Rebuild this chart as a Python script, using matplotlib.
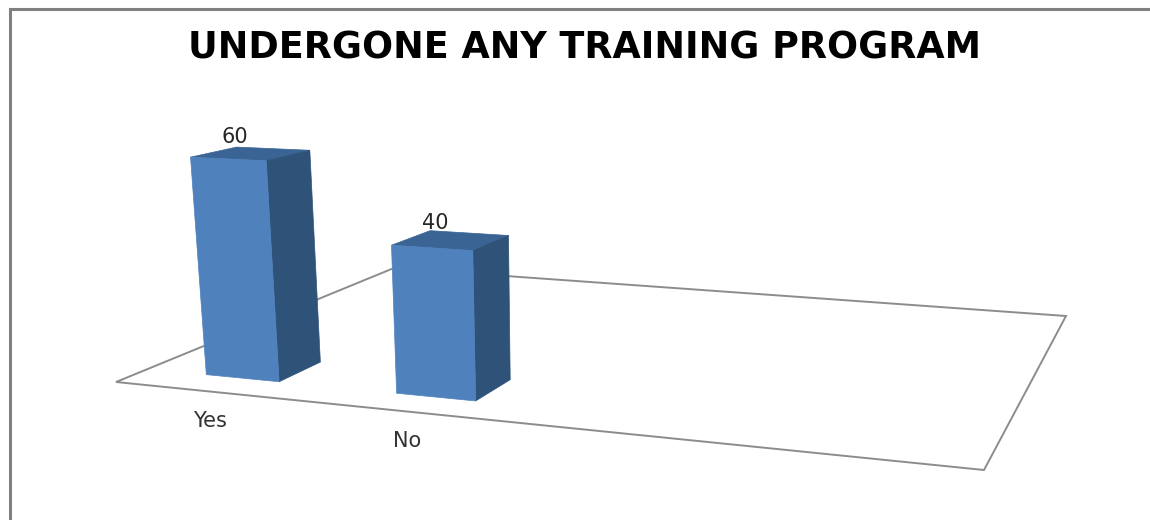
import matplotlib
matplotlib.use("Agg")  # save to file without needing a display
import matplotlib.pyplot as plt
import numpy as np
from matplotlib.patches import Polygon

title = "UNDERGONE ANY TRAINING PROGRAM"
categories = ["Yes", "No"]
values = [60, 40]

# --- fake 3D scene, all in image pixels ---
floor = [(116, 382), (984, 470), (1066, 316), (394, 268)]  # front-left, front-right, back-right, back-left
g, h = -0.1626, 0.3115  # perspective terms for that floor
a, b, c = 708, 400.7, 116
d, e, f = 11.6, -30.5, 382
vanish = np.array([570, 5380])  # verticals meet far below the picture
per_unit = 0.0007  # height per unit of value
base_lift = 0.0022  # value axis does not start right on the floor
back_scale = 0.955  # back corners come out a bit shorter
left_scale = 0.983  # so do the left ones, top edges run flatter than the floor

slots = 4  # chart keeps empty room for two more categories
bar_w = 0.098
bar_v = (0.09, 0.227)


def on_floor(u, v):
    w = g * u + h * v + 1
    return np.array([(a * u + b * v + c) / w, (d * u + e * v + f) / w])


def lift(p, value, scale=1.0):
    return p + (p - vanish) * (value * per_unit + base_lift) * scale


fig = plt.figure(figsize=(11.5, 5.2), dpi=100)
ax = fig.add_axes([0, 0, 1, 1])
ax.set_xlim(0, 1150)
ax.set_ylim(520, 0)
ax.axis("off")

# outer frame, only left and top show
ax.plot([9.5, 9.5, 1150], [520, 9.2, 9.2], color="#808080", lw=2.2, solid_joinstyle="miter")

ax.text(585, 48, title, ha="center", va="center", fontsize=26.3, fontweight="bold",
        family="DejaVu Sans", color="black")

ax.add_patch(Polygon(floor, closed=True, facecolor="white", edgecolor="#8c8c8c", lw=1.4, zorder=1))

for i, (name, val) in enumerate(zip(categories, values)):
    mid = (i + 0.52) / slots
    ul, ur = mid - bar_w / 2, mid + bar_w / 2
    fl, fr = on_floor(ul, bar_v[0]), on_floor(ur, bar_v[0])
    bl, br = on_floor(ul, bar_v[1]), on_floor(ur, bar_v[1])
    tfl, tfr = lift(fl, val, left_scale), lift(fr, val)
    tbl, tbr = lift(bl, val, back_scale * left_scale), lift(br, val, back_scale)

    ax.add_patch(Polygon([tfl, tbl, tbr, tfr], facecolor="#3a6494", edgecolor="#3a6494", lw=0.5, zorder=4))
    ax.add_patch(Polygon([tfr, tbr, br, fr], facecolor="#2f5279", edgecolor="#2f5279", lw=0.5, zorder=4))
    ax.add_patch(Polygon([tfl, tfr, fr, fl], facecolor="#4f81bd", edgecolor="#4f81bd", lw=0.5, zorder=5))

    top = (tfl + tbr) / 2
    ax.text(top[0] - 15, top[1] - 17, str(val), ha="center", va="center", fontsize=15,
            family="DejaVu Sans", color="#262626", zorder=3)

    tick = on_floor(mid, 0)
    ax.text(tick[0] - 3, tick[1] + 29, name, ha="center", va="center", fontsize=15,
            family="DejaVu Sans", color="#333333", zorder=3)

fig.savefig("out.png", dpi=100, facecolor="white")
plt.close(fig)
